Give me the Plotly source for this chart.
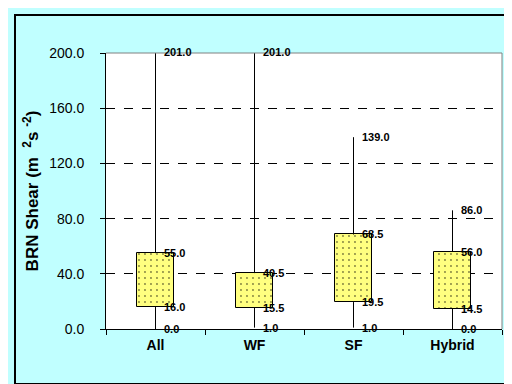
import plotly.graph_objects as go

categories = ["All", "WF", "SF", "Hybrid"]
max_vals = [201.0, 201.0, 139.0, 86.0]
q3_vals = [55.0, 40.5, 68.5, 56.0]
q1_vals = [16.0, 15.5, 19.5, 14.5]
min_vals = [0.0, 1.0, 1.0, 0.0]
y_ticks = [0, 40, 80, 120, 160, 200]
Y_MIN, Y_MAX = 0, 200

FONT = "Liberation Sans, Arial, sans-serif"

fig = go.Figure()

# whiskers (drawn as two segments so they do not cross the box)
wx, wy = [], []
for c, mn, q1, q3, mx in zip(categories, min_vals, q1_vals, q3_vals, max_vals):
    wx += [c, c, None, c, c, None]
    wy += [mn, q1, None, q3, mx, None]
fig.add_trace(go.Scatter(x=wx, y=wy, mode="lines",
                         line=dict(color="black", width=1),
                         hoverinfo="skip", showlegend=False))

# boxes
fig.add_trace(go.Bar(
    x=categories,
    y=[a - b for a, b in zip(q3_vals, q1_vals)],
    base=q1_vals,
    width=0.37,
    marker=dict(
        color="#FFFF80",
        line=dict(color="black", width=1),
        pattern=dict(shape=".", bgcolor="#FFFF80", fgcolor="black",
                     size=6, solidity=0.08),
    ),
    showlegend=False,
))

# value labels (y given in axis-domain units so labels above the range still show)
for c, vals in zip(categories, zip(max_vals, q3_vals, q1_vals, min_vals)):
    for v in vals:
        fig.add_annotation(x=c, xref="x",
                           y=(v - Y_MIN) / (Y_MAX - Y_MIN), yref="y domain",
                           text=f"<b>{v:.1f}</b>", showarrow=False,
                           xanchor="left", yanchor="middle", xshift=6,
                           font=dict(family=FONT, size=11, color="black"))

shapes = [
    # plot-area top and right border (gray)
    dict(type="line", xref="paper", yref="paper", x0=0, x1=1, y0=1, y1=1,
         line=dict(color="#808080", width=1), layer="above"),
    dict(type="line", xref="paper", yref="paper", x0=1, x1=1, y0=0, y1=1,
         line=dict(color="#808080", width=1), layer="above"),
    # outer chart border
    dict(type="rect", xref="paper", yref="paper",
         x0=-0.2298, x1=1.0278, y0=-0.1993, y1=1.1377,
         line=dict(color="black", width=2), layer="below"),
]

fig.update_layout(
    width=512, height=384,
    margin=dict(l=98, r=18, t=45, b=63),
    paper_bgcolor="#C0FFFF",
    plot_bgcolor="white",
    font=dict(family=FONT, color="black"),
    shapes=shapes,
    bargap=0,
)

fig.update_xaxes(
    type="category", range=[-0.5, 3.5],
    showline=True, linecolor="black", linewidth=1,
    ticks="outside", tickson="boundaries", ticklen=5, tickcolor="black",
    showgrid=False,
    tickfont=dict(family=FONT, size=14, color="black", weight="bold"),
    ticklabelstandoff=3,
)

fig.update_yaxes(
    range=[Y_MIN, Y_MAX], tickvals=y_ticks, tickformat=".1f",
    showline=True, linecolor="black", linewidth=1,
    ticks="outside", ticklen=5, tickcolor="black",
    showgrid=True, gridcolor="black", griddash="dash", gridwidth=1,
    zeroline=False,
    tickfont=dict(family=FONT, size=14, color="black"),
    ticklabelstandoff=13,
    title=dict(text="<b>BRN Shear (m  <sup>2</sup>s <sup>-2</sup>)</b>",
               font=dict(family=FONT, size=17, color="black"), standoff=6),
)

fig.write_html("out.html")
